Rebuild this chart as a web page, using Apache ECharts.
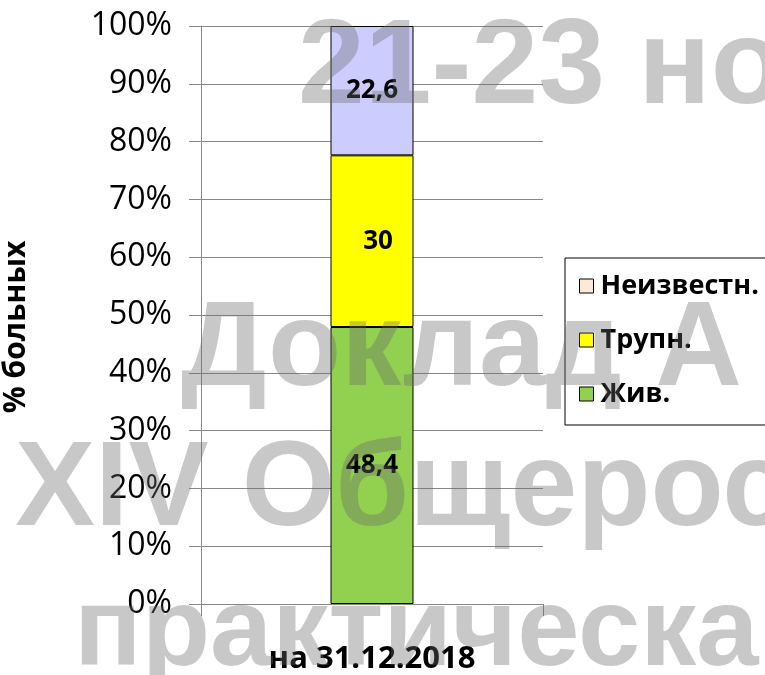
<!DOCTYPE html>
<html>
<head>
<meta charset="utf-8">
<script src="https://cdn.jsdelivr.net/npm/echarts@6/dist/echarts.min.js"></script>
<style>
html,body{margin:0;padding:0;background:#fff;}
#chart{width:765px;height:675px;}
</style>
</head>
<body>
<div id="chart"></div>
<script>
const categories = ['на 31.12.2018'];
const seriesNames = ['Жив.', 'Трупн.', 'Неизвестн.'];
const zhivValues = [48.4];
const trupnValues = [30];
const neizvValues = [22.6];
const yTickLabels = ['0%','10%','20%','30%','40%','50%','60%','70%','80%','90%','100%'];
const watermarkLines = ['21-23 но', 'Доклад А', 'XIV Общерос', 'практическа'];

const allValues = [zhivValues, trupnValues, neizvValues];
const totals = categories.map((c, i) => allValues.reduce((s, arr) => s + arr[i], 0));
const pct = arr => arr.map((v, i) => ({ value: v / totals[i] * 100, raw: v }));

const font = '"Open Sans", "DejaVu Sans", sans-serif';
const fmtRaw = p => String(p.data.raw).replace('.', ',');

function barSeries(name, arr, legendColor, barColor, labelOffset) {
  return {
    name: name,
    type: 'bar',
    stack: 'total',
    barWidth: 83,
    itemStyle: { color: legendColor, borderColor: '#000', borderWidth: 1 },
    data: pct(arr).map(d => ({ value: d.value, raw: d.raw, itemStyle: { color: barColor, borderColor: '#000', borderWidth: 1 } })),
    label: {
      show: true, position: 'inside', formatter: fmtRaw,
      fontFamily: font, fontWeight: 'bold', fontSize: 26, color: '#000',
      offset: labelOffset || [0, 0]
    }
  };
}

const wmStyle = (text, x, y, size) => ({
  type: 'text', z: 100, silent: true, x: x, y: y,
  style: {
    text: text, fontFamily: '"Liberation Sans", Arial, sans-serif', fontWeight: 'bold',
    fontSize: size, fill: 'rgba(105,105,105,0.37)', verticalAlign: 'bottom',
    shadowColor: 'rgba(0,0,0,0.28)', shadowBlur: 6, shadowOffsetX: 4, shadowOffsetY: 4
  }
});

const chart = echarts.init(document.getElementById('chart'), null, { renderer: 'canvas' });
chart.setOption({
  backgroundColor: '#fff',
  animation: false,
  grid: { left: 195, right: 222, top: 26, bottom: 71, containLabel: false },
  legend: {
    orient: 'vertical', left: 565, top: 258,
    padding: [14, 60, 17, 14],
    borderColor: '#000', borderWidth: 1, backgroundColor: 'transparent',
    itemWidth: 14, itemHeight: 14, itemGap: 26, icon: 'rect',
    itemStyle: { borderColor: '#000', borderWidth: 1 },
    textStyle: { fontFamily: font, fontWeight: 'bold', fontSize: 27, color: '#000', lineHeight: 28, padding: [0, 0, 0, 2] },
    data: ['Неизвестн.', 'Трупн.', 'Жив.']
  },
  xAxis: {
    type: 'category', data: categories, boundaryGap: true,
    axisLine: { show: true, lineStyle: { color: '#888', width: 1 } },
    axisTick: { show: true, length: 12, lineStyle: { color: '#888' } },
    axisLabel: { fontFamily: font, fontWeight: 'bold', fontSize: 31, color: '#000', margin: 40 }
  },
  yAxis: {
    type: 'value', min: 0, max: 100, interval: 10,
    name: '% больных', nameLocation: 'middle', nameGap: 170, nameRotate: 90,
    nameTextStyle: { fontFamily: font, fontWeight: 'bold', fontSize: 30, color: '#000', padding: [0, 24, 0, 0] },
    axisLine: { show: true, lineStyle: { color: '#888', width: 1 } },
    axisTick: { show: true, length: 12, lineStyle: { color: '#888' } },
    splitLine: { show: true, lineStyle: { color: '#888', width: 1 } },
    axisLabel: {
      fontFamily: font, fontSize: 32, color: '#000', margin: 29,
      formatter: v => yTickLabels[Math.round(v / 10)]
    }
  },
  series: [
    barSeries('Жив.', zhivValues, '#92d050', '#92d050'),
    barSeries('Трупн.', trupnValues, '#ffff00', '#ffff00', [6, 0]),
    barSeries('Неизвестн.', neizvValues, '#fde9d9', '#ccccff')
  ],
  graphic: [
    wmStyle(watermarkLines[0], 298, 130, 120),
    wmStyle(watermarkLines[1], 181, 412, 120),
    wmStyle(watermarkLines[2], 15, 552, 120),
    wmStyle(watermarkLines[3], 74, 690, 112)
  ]
});
</script>
</body>
</html>
